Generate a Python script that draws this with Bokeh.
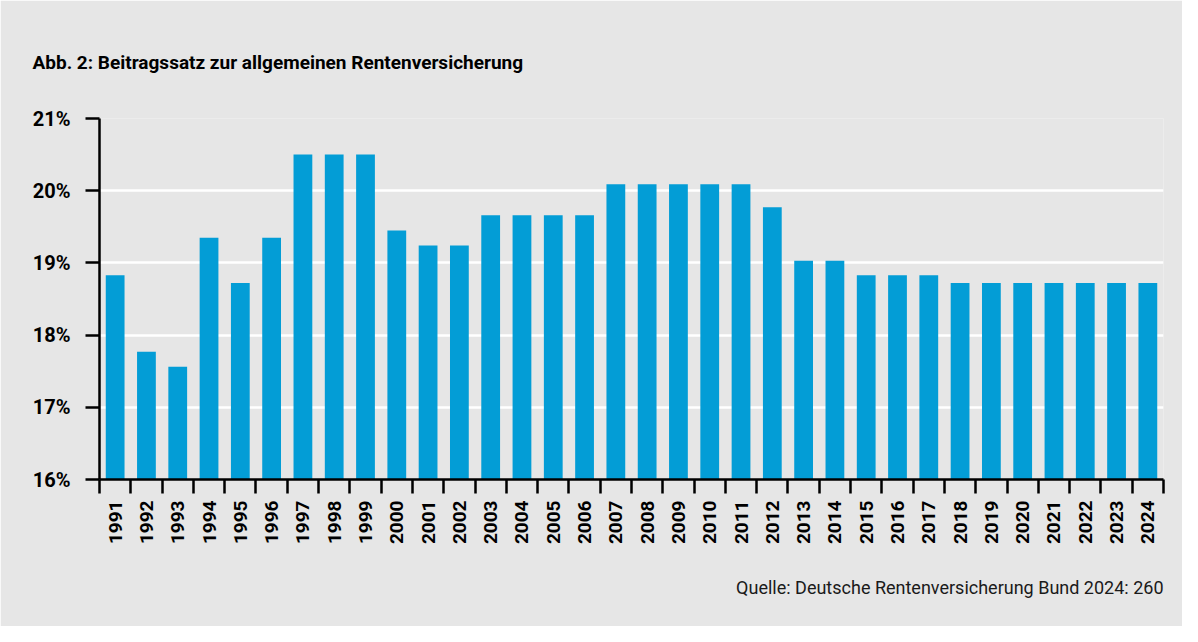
from bokeh.plotting import figure
from bokeh.models import ColumnDataSource, FixedTicker, Range1d, Title
from bokeh.embed import file_html
from bokeh.resources import INLINE

years = [str(y) for y in range(1991, 2025)]
rates = [18.83, 17.77, 17.56, 19.35, 18.72, 19.35, 20.5, 20.5, 20.5, 19.45,
         19.24, 19.24, 19.66, 19.66, 19.66, 19.66, 20.09, 20.09, 20.09, 20.09,
         20.09, 19.77, 19.03, 19.03, 18.83, 18.83, 18.83, 18.72, 18.72, 18.72,
         18.72, 18.72, 18.72, 18.72]
y_ticks = [16, 17, 18, 19, 20, 21]
y_labels = ["16%", "17%", "18%", "19%", "20%", "21%"]
title_text = "Abb. 2: Beitragssatz zur allgemeinen Rentenversicherung"
source_text = "Quelle: Deutsche Rentenversicherung Bund 2024: 260"

BG = "#e6e6e6"
BAR = "#039dd6"
FONT = "Roboto"

n = len(years)
xs = [i + 0.5 for i in range(n)]
src = ColumnDataSource(dict(x=xs, top=rates, year=years))

p = figure(width=1182, height=626, output_backend="svg", toolbar_location=None,
           x_range=Range1d(0, n), y_range=Range1d(16, 21),
           min_border_left=99, min_border_right=19, min_border_top=118,
           min_border_bottom=147)
p.background_fill_color = BG
p.border_fill_color = BG
p.outline_line_color = None

p.vbar(x="x", top="top", bottom=16, width=0.6, source=src,
       fill_color=BAR, line_color=None)

# grid
p.xgrid.visible = False
p.ygrid.ticker = FixedTicker(ticks=y_ticks)
p.ygrid.grid_line_color = "white"
p.ygrid.grid_line_width = 2.5

# x axis
xa = p.xaxis[0]
xa.ticker = FixedTicker(ticks=xs, minor_ticks=list(range(n + 1)))
xa.major_label_overrides = {x: y for x, y in zip(xs, years)}
xa.major_label_orientation = 1.5708
xa.major_tick_line_color = None
xa.major_tick_out = 14
xa.major_tick_in = 0
xa.minor_tick_line_color = "black"
xa.minor_tick_line_width = 2.5
xa.minor_tick_out = 14
xa.minor_tick_in = 0
xa.axis_line_color = "black"
xa.axis_line_width = 2.5
xa.major_label_standoff = 7
xa.major_label_text_font = FONT
xa.major_label_text_font_style = "bold"
xa.major_label_text_font_size = "19px"
xa.major_label_text_color = "black"

# y axis
ya = p.yaxis[0]
ya.ticker = FixedTicker(ticks=y_ticks, minor_ticks=[])
ya.major_label_overrides = {t: l for t, l in zip(y_ticks, y_labels)}
ya.major_tick_line_color = "black"
ya.major_tick_line_width = 2.5
ya.major_tick_out = 14
ya.major_tick_in = 0
ya.axis_line_color = "black"
ya.axis_line_width = 2.5
ya.major_label_standoff = 15
ya.major_label_text_font = FONT
ya.major_label_text_font_style = "bold"
ya.major_label_text_font_size = "20px"
ya.major_label_text_color = "black"

title = Title(text=title_text, align="left", offset=-67, standoff=90,
              text_font=FONT, text_font_style="bold", text_font_size="19px",
              text_color="black")
p.add_layout(title, "above")

source = Title(text=source_text, align="right", offset=0, standoff=55,
               text_font=FONT, text_font_style="normal", text_font_size="18px",
               text_color="#1a1a1a")
p.add_layout(source, "below")

open("out.html", "w").write(file_html(p, INLINE))
